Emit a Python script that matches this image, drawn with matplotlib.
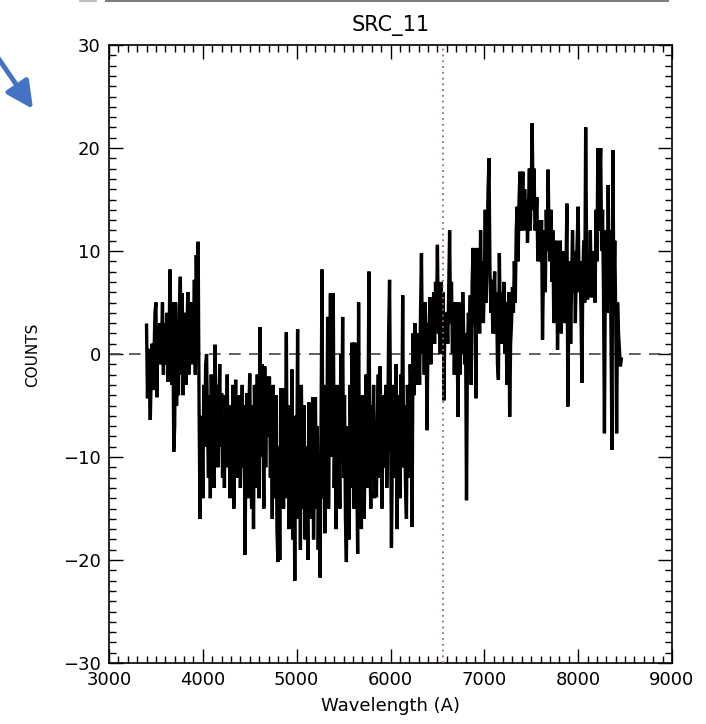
import numpy as np
import matplotlib
matplotlib.use("Agg")
import matplotlib.pyplot as plt
from matplotlib.lines import Line2D
from matplotlib.ticker import MultipleLocator

# ---------------- data ----------------
wave_start = 3400.0   # Angstrom
wave_step = 10.0      # Angstrom per sample

counts = [
    # 3400
    2.8, -4.3, 0.5, -3, -6.4, -2, 1, -3.5, 0, 4,
    # 3500
    5, -4.2, 2, 0, 3, -1, 1, 5, -2, 3,
    # 3600
    0, -1, 4, -2.7, 1, 8.2, 2, -3, 5, -9.5,
    # 3700
    -7, 5, -5, 1, -4, 3.6, 7.5, -2, 5.9, -4,
    # 3800
    0.7, 4, -3, 2, 6, -2, 1, 5, -1, 4.3,
    # 3900
    1, 7.2, -2, 9.6, 3, 10.9, -5, -16, -11, -6,
    # 4000
    -14, -3, -9, -1, 0, -7, -12, -4, -14, -2,
    # 4100
    -10, -5, -13, 0.9, -8, -3, -11, -6, -1, -9,
    # 4200
    -3.8, -12, -6, -13, -4, -9, -2, -11, -5.6, -14,
    # 4300
    -5, -10, -3, -15, -8, -2.5, -12, -6, -9, -4,
    # 4400
    -13, -7, -3, -11, -5, -19.5, -8, -3.8, -14, -6,
    # 4500
    -1.9, -11, -15, -5, -17, -3, -9, -13, -2, -8,
    # 4600
    -14, 2.6, -10, -1, -6, -15, -1.2, -11, -4, -2.2,
    # 4700
    -8, -2.2, -12, -5, -16, -3, -10, -14, -4, -17,
    # 4800
    -20.2, -9, -20, -3.3, -12, -3.3, -15, -6, -11, 2.1,
    # 4900
    -14, -5, -17, -8, -12, -1.5, -18, -10, -22, -6,
    # 5000
    -13, 2.4, -16, -7, -19, -3, -11, -15, -5, -18,
    # 5100
    -9, -14, -20, -4.7, -16, -8, -13, -4.2, -18, -10,
    # 5200
    -4.2, -15, -7, -19, -11, -21.7, -6, 8.2, -14, -3,
    # 5300
    -17.4, -8, -12, 3.6, -15, -5, 5.9, -10, -2, 5.9,
    # 5400
    -13, -6, -17, -3, -11, -8, -15, 0, -9, 3.6,
    # 5500
    -12, -4, -16, -20.2, -7, -10, -18, -3, -13, 1.1,
    # 5600
    -6, -15, 1.1, -9, -11, -19.4, 5, -14, -7, -17,
    # 5700
    -4, -12, -16, -8, -2, -13, -7, 8, -10, -15,
    # 5800
    -5, -11, -3, -14, -8, -13.9, -6, -2, -12, -1.2,
    # 5900
    -9, -15, -4, -11, -7, -3, -13, -8, 2, 7.2,
    # 6000
    -5, -18.8, -10, -3, -12, -6, -1, -17, -9, -4,
    # 6100
    -14, -2, -8, 5.7, -11, -5, -13, -16, -3, -7,
    # 6200
    -12, -1, -6, -16.8, 2, -4, 3, -2, 1, -3,
    # 6300
    2, -3, 4, 9.8, 0, 3, -2, 5, 1, -7.4,
    # 6400
    3, 0, 5.5, -1, 4, 2, 6, 1, 7, 3,
    # 6500
    10.6, 2, 5, 0, 7, 3, 6, -4.5, 4, 2,
    # 6600
    4, 1, 6, 12, 3, 7, 0, 5, -2, 3,
    # 6700
    5, 1, -6.1, 5, -2, 3, 0, 6, 2, -1,
    # 6800
    2, -14.2, 0, 4, 1, 5.7, -3, 7, 10.3, 3,
    # 6900
    6, -4.3, 10.3, 4, 8, 2, 12, 5, 9, 3,
    # 7000
    7, 14, 5, 11, 16, 19, 8, 4, 7.2, 2,
    # 7100
    5, 8, 2, 6, -1, -2.5, 9.8, 3, 6, 1,
    # 7200
    4, 7, 0, 5, -3, 2, 6, -6.1, 1, 3,
    # 7300
    6.5, 4, 9, 5, 12, 14.3, 9, 15, 17.7, 12,
    # 7400
    14, 17.7, 12, 16, 13, 15, 10.8, 14, 18, 12,
    # 7500
    16, 22.4, 14, 18, 12, 13, 15.2, 9, 13, 11,
    # 7600
    9, 13, 1.4, 8, 12, 6, 14, 10, 17.9, 11,
    # 7700
    9, 14, 7, 12, 3, 10, 6, 11, 0.4, 8,
    # 7800
    5, 11, 2, 9, 6.9, 10, 3, 8, 14.6, -5.1,
    # 7900
    4, 9, 1, 7, 12, 6, 10, 3, 8, 11,
    # 8000
    14.3, 6, 9, 4, -2.8, 8, 11, 5, 22, 10,
    # 8100
    5.3, 9, 6, 12, 5.5, 8, 6, 10, 5, 14,
    # 8200
    9, 20, 12, 17, 20, 10, 14, 6, -7.7, 8,
    # 8300
    12, 4, 16.4, 7, 12, 2, -9.3, 19.8, 6, 11,
    # 8400
    4, -7.7, 5, 2, 0.4, -1.2, -0.5,
]

halpha = 6563.0
title = "SRC_11"
xlabel = "Wavelength (A)"
ylabel = "COUNTS"
xticks = [3000, 4000, 5000, 6000, 7000, 8000, 9000]
yticks = [-30, -20, -10, 0, 10, 20, 30]

wave = wave_start + wave_step * np.arange(len(counts))

# ---------------- figure ----------------
W, H = 706, 724
fig = plt.figure(figsize=(W / 100, H / 100), dpi=100)
plt.rcParams['font.family'] = ['DejaVu Sans']

L, R, T, B = 109, 672, 45, 663
ax = fig.add_axes([L / W, 1 - B / H, (R - L) / W, (B - T) / H])

ax.plot(wave, counts, color='black', lw=2.4, solid_joinstyle='miter', zorder=3)
ax.axhline(0, color='#444444', lw=1.2, dashes=(7, 5), zorder=2)
ax.axvline(halpha, color='#a06868', lw=1.3, ls=(0, (1, 2.2)), zorder=4)

ax.set_xlim(3000, 9000)
ax.set_ylim(-30, 30)
ax.set_xticks(xticks)
ax.set_yticks(yticks)
ax.set_xticklabels([str(t) for t in xticks])
ax.set_yticklabels([("\u2212" + str(-t)) if t < 0 else str(t) for t in yticks])
ax.xaxis.set_minor_locator(MultipleLocator(100))
ax.yaxis.set_minor_locator(MultipleLocator(1))
ax.tick_params(which='both', direction='in', top=True, right=True,
               labelsize=13, width=1.0, color='black')
ax.tick_params(which='major', length=10, pad=6)
ax.tick_params(which='minor', length=5)
for s in ax.spines.values():
    s.set_linewidth(1.2)

fig.text((L + R) / 2 / W, 1 - 26 / H, title, ha='center', va='center', fontsize=15)
fig.text((L + R) / 2 / W, 1 - 706 / H, xlabel, ha='center', va='center', fontsize=13)
fig.text(33 / W, 1 - 355 / H, ylabel, ha='center', va='center', rotation=90, fontsize=11)

# remnants of the surrounding screenshot
fig.add_artist(Line2D([106 / W, 668 / W], [1 - 1 / H, 1 - 1 / H], color='#808080', lw=1.5))
fig.add_artist(Line2D([80 / W, 96 / W], [1 - 1 / H, 1 - 1 / H], color='#b0b0b0', lw=1.2))
ax.annotate('', xy=(33, H - 109), xytext=(-6, H - 52), xycoords='figure pixels',
            textcoords='figure pixels',
            arrowprops=dict(arrowstyle='-|>,head_length=0.9,head_width=0.45',
                            color='#4472C4', lw=3.5, mutation_scale=18,
                            shrinkA=0, shrinkB=0),
            annotation_clip=False)

fig.savefig('out.png', dpi=100)
